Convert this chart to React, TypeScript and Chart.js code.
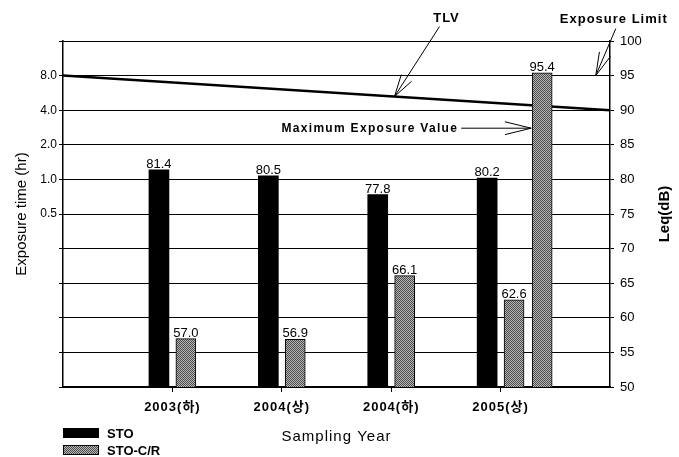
import React, { useEffect, useRef } from 'react';
import { Chart, registerables } from 'chart.js';

Chart.register(...registerables);

// ---- data ----
const categories = ['2003(하)', '2004(상)', '2004(하)', '2005(상)'];
const stoValues = [81.4, 80.5, 77.8, 80.2];
const stoCrValues = [57.0, 56.9, 66.1, 62.6];
const maxExposureValue = 95.4;
const maxExposurePosition = 4.38; // position along the year axis (category units, 1 = first year)
const tlvX = [0, 5];
const tlvY = [95, 90];
const leqMin = 50;
const leqMax = 100;
const leqStep = 5;
const exposureTimeLabels = ['8.0', '4.0', '2.0', '1.0', '0.5'];
const exposureTimeLevels = [95, 90, 85, 80, 75];

// layout of a pair of bars inside one year slot (fraction of a slot)
const GROUP_SHIFT = 0.123;
const BAR_WIDTH = 20;

const FONT = '"Liberation Sans", Arial, "Noto Sans CJK KR", sans-serif';

function makePattern(): CanvasPattern | string {
  const c = document.createElement('canvas');
  c.width = 4;
  c.height = 4;
  const g = c.getContext('2d');
  if (!g) return '#888';
  g.fillStyle = '#b8b8b8';
  g.fillRect(0, 0, 4, 4);
  g.fillStyle = '#4a4a4a';
  for (let x = 0; x < 4; x++) {
    for (let y = 0; y < 4; y++) {
      if ((x + y) % 2 === 0) g.fillRect(x, y, 1, 1);
    }
  }
  return g.createPattern(c, 'repeat') || '#888';
}

function arrowHead(ctx: CanvasRenderingContext2D, tipX: number, tipY: number, tailX: number, tailY: number, len: number, spread: number) {
  const ang = Math.atan2(tailY - tipY, tailX - tipX);
  ctx.beginPath();
  ctx.moveTo(tipX + Math.cos(ang - spread) * len, tipY + Math.sin(ang - spread) * len);
  ctx.lineTo(tipX, tipY);
  ctx.lineTo(tipX + Math.cos(ang + spread) * len, tipY + Math.sin(ang + spread) * len);
  ctx.stroke();
}

const decorPlugin = {
  id: 'decor',
  afterDatasetsDraw(chart: any) {
    const ctx: CanvasRenderingContext2D = chart.ctx;
    ctx.save();
    ctx.fillStyle = '#000';
    ctx.font = `13px ${FONT}`;
    ctx.textAlign = 'center';
    ctx.textBaseline = 'alphabetic';
    chart.data.datasets.forEach((ds: any, i: number) => {
      if (ds.type === 'line') return;
      const meta = chart.getDatasetMeta(i);
      meta.data.forEach((el: any, j: number) => {
        const raw = ds.data[j];
        const v = raw == null ? null : typeof raw === 'object' ? raw.y : raw;
        if (v == null) return;
        ctx.fillText(v.toFixed(1), el.x, el.y - 2);
      });
    });
    ctx.restore();
  },
  afterDraw(chart: any) {
    const ctx: CanvasRenderingContext2D = chart.ctx;
    const area = chart.chartArea;
    const xs = chart.scales.x;
    const y = chart.scales.y;
    ctx.save();
    ctx.fillStyle = '#000';
    ctx.strokeStyle = '#000';
    ctx.lineWidth = 1;

    // category labels
    ctx.textAlign = 'center';
    ctx.textBaseline = 'middle';
    ctx.font = `bold 13px ${FONT}`;
    (ctx as any).letterSpacing = '1px';
    categories.forEach((c, i) => {
      ctx.fillText(c, xs.getPixelForValue(i + 1), area.bottom + 20);
    });
    (ctx as any).letterSpacing = '0px';

    // axis titles
    const midY = (area.top + area.bottom) / 2;
    ctx.font = `15px ${FONT}`;
    ctx.save();
    ctx.translate(22, midY);
    ctx.rotate(-Math.PI / 2);
    ctx.fillText('Exposure time (hr)', 0, 0);
    ctx.restore();

    ctx.font = `bold 15px ${FONT}`;
    ctx.save();
    ctx.translate(area.right + 55, midY);
    ctx.rotate(-Math.PI / 2);
    ctx.fillText('Leq(dB)', 0, 0);
    ctx.restore();

    ctx.font = `15px ${FONT}`;
    (ctx as any).letterSpacing = '1px';
    ctx.fillText('Sampling Year', (area.left + area.right) / 2, area.bottom + 50);
    (ctx as any).letterSpacing = '0px';

    // TLV annotation
    const tlvAt = 3.03;
    const tlvVal = tlvY[0] + (tlvY[1] - tlvY[0]) * (tlvAt - tlvX[0]) / (tlvX[1] - tlvX[0]);
    const tX = xs.getPixelForValue(tlvAt);
    const tY = y.getPixelForValue(tlvVal);
    const tTailX = tX + 45;
    const tTailY = tY - 70;
    ctx.beginPath();
    ctx.moveTo(tTailX, tTailY);
    ctx.lineTo(tX, tY);
    ctx.stroke();
    arrowHead(ctx, tX, tY, tTailX, tTailY, 23, 0.27);
    ctx.font = `bold 13px ${FONT}`;
    (ctx as any).letterSpacing = '1px';
    ctx.fillText('TLV', tTailX + 7, tTailY - 8);

    // Exposure Limit annotation
    const eX = xs.getPixelForValue(4.87);
    const eY = y.getPixelForValue(95);
    const eTailX = eX + 20;
    const eTailY = eY - 47;
    ctx.beginPath();
    ctx.moveTo(eTailX, eTailY);
    ctx.lineTo(eX, eY);
    ctx.stroke();
    arrowHead(ctx, eX, eY, eTailX, eTailY, 24, 0.25);
    ctx.fillText('Exposure Limit', eTailX - 2, eTailY - 9);

    // Maximum Exposure Value annotation
    const maxMeta = chart.getDatasetMeta(2);
    const maxEl = maxMeta.data[0];
    if (maxEl) {
      const mX = maxEl.x - maxEl.width / 2 - 1;
      const mY = y.getPixelForValue(87.4);
      const mTailX = mX - 70;
      ctx.beginPath();
      ctx.moveTo(mTailX, mY);
      ctx.lineTo(mX, mY);
      ctx.stroke();
      arrowHead(ctx, mX, mY, mTailX, mY, 27, 0.24);
      ctx.font = `bold 12px ${FONT}`;
      (ctx as any).letterSpacing = '1.3px';
      ctx.textAlign = 'right';
      ctx.fillText('Maximum Exposure Value', mTailX - 3, mY);
    }
    (ctx as any).letterSpacing = '0px';

    // legend
    ctx.textAlign = 'left';
    ctx.font = `bold 13px ${FONT}`;
    const legendItems = [chart.data.datasets[0], chart.data.datasets[1]];
    legendItems.forEach((ds: any, i: number) => {
      const bx = area.left;
      const by = area.bottom + 41 + i * 17;
      ctx.fillStyle = ds.backgroundColor;
      ctx.fillRect(bx, by, 36, 10);
      if (ds.borderWidth) {
        ctx.strokeStyle = '#000';
        ctx.strokeRect(bx + 0.5, by + 0.5, 35, 9);
      }
      ctx.fillStyle = '#000';
      ctx.fillText(ds.label, bx + 44, by + 6);
    });
    ctx.restore();
  },
};

export default function App() {
  const ref = useRef<HTMLCanvasElement | null>(null);

  useEffect(() => {
    if (!ref.current) return;
    const pattern = makePattern();
    const lastTick = categories.length + 1;
    const chart = new Chart(ref.current, {
      type: 'bar',
      data: {
        datasets: [
          {
            type: 'bar',
            label: 'STO',
            data: stoValues.map((v, i) => ({ x: i + 1 - GROUP_SHIFT, y: v })),
            backgroundColor: '#000',
            borderWidth: 0,
            barThickness: BAR_WIDTH,
            grouped: false,
            order: 1,
          } as any,
          {
            type: 'bar',
            label: 'STO-C/R',
            data: stoCrValues.map((v, i) => ({ x: i + 1 + GROUP_SHIFT, y: v })),
            backgroundColor: pattern,
            borderColor: '#000',
            borderWidth: 1,
            barThickness: BAR_WIDTH,
            grouped: false,
            order: 1,
          } as any,
          {
            type: 'bar',
            label: 'Maximum Exposure Value',
            data: [{ x: maxExposurePosition, y: maxExposureValue }],
            backgroundColor: pattern,
            borderColor: '#000',
            borderWidth: 1,
            barThickness: BAR_WIDTH,
            grouped: false,
            order: 1,
          } as any,
          {
            type: 'line',
            label: 'TLV',
            data: tlvX.map((x, i) => ({ x, y: tlvY[i] })),
            borderColor: '#000',
            borderWidth: 2.5,
            pointRadius: 0,
            fill: false,
            order: 5,
          } as any,
        ],
      },
      options: {
        responsive: false,
        animation: false,
        layout: { padding: { top: 41, left: 0, right: 0, bottom: 0 } },
        plugins: {
          legend: { display: false },
          tooltip: { enabled: false },
        },
        scales: {
          x: {
            type: 'linear',
            min: 0,
            max: lastTick,
            offset: false,
            grid: {
              display: true,
              offset: false,
              drawOnChartArea: false,
              drawTicks: true,
              tickLength: 5,
              tickColor: (c: any) => {
                const v = c.tick ? c.tick.value : -1;
                return v >= 1 && v <= categories.length ? '#000' : 'rgba(0,0,0,0)';
              },
            },
            border: { display: true, color: '#000', width: 1.5 },
            ticks: {
              stepSize: 1,
              display: false,
              autoSkip: false,
              maxRotation: 0,
              minRotation: 0,
            },
            afterFit: (s: any) => {
              s.height = 70;
            },
          },
          y: {
            type: 'linear',
            position: 'right',
            min: leqMin,
            max: leqMax,
            ticks: {
              stepSize: leqStep,
              color: '#000',
              font: { family: FONT, size: 13 },
              padding: 6,
            },
            grid: { color: '#000', lineWidth: 1, drawTicks: true, tickLength: 4 },
            border: { display: true, color: '#000', width: 1.5 },
            afterFit: (s: any) => {
              s.width = 69;
            },
          },
          yL: {
            type: 'linear',
            position: 'left',
            min: leqMin,
            max: leqMax,
            ticks: {
              stepSize: leqStep,
              color: '#000',
              font: { family: FONT, size: 12 },
              padding: 2,
              callback: (v: any) => {
                const idx = exposureTimeLevels.indexOf(Number(v));
                return idx >= 0 ? exposureTimeLabels[idx] : '';
              },
            },
            grid: { drawOnChartArea: false, color: '#000', drawTicks: true, tickLength: 4 },
            border: { display: true, color: '#000', width: 1.5 },
            afterFit: (s: any) => {
              s.width = 63;
            },
          },
        },
      } as any,
      plugins: [decorPlugin],
    });
    return () => chart.destroy();
  }, []);

  return (
    <div style={{ position: 'absolute', left: 0, top: 0, width: 679, height: 457, background: '#fff' }}>
      <canvas ref={ref} width={679} height={457} />
    </div>
  );
}
